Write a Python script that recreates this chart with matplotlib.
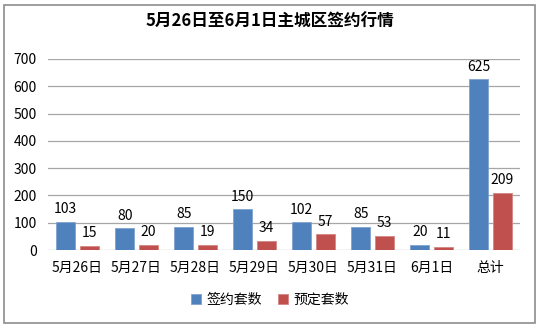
import matplotlib
matplotlib.use("Agg")
import matplotlib.pyplot as plt
import numpy as np
from matplotlib.patches import Rectangle

plt.rcParams['font.family'] = ['Noto Sans CJK SC', 'DejaVu Sans']

categories = ["5月26日", "5月27日", "5月28日", "5月29日", "5月30日", "5月31日", "6月1日", "总计"]
signed = [103, 80, 85, 150, 102, 85, 20, 625]
reserved = [15, 20, 19, 34, 57, 53, 11, 209]
series_names = ["签约套数", "预定套数"]
title = "5月26日至6月1日主城区签约行情"

fig = plt.figure(figsize=(5.4, 3.3), dpi=100)
fig.patches.append(Rectangle((4/540, 1-323/330), 531/540, 318/330, transform=fig.transFigure,
                             fill=False, edgecolor='#8c8c8c', linewidth=1.2))
ax = fig.add_axes([48/540, 1-250/330, 472/540, 191/330])

x = np.arange(len(categories))
w = 0.33
b1 = ax.bar(x - 0.2, signed, w, color='#4F81BD', edgecolor='#7FA3D1', linewidth=0.6, label=series_names[0], zorder=3)
b2 = ax.bar(x + 0.2, reserved, w, color='#C0504D', edgecolor='#D48684', linewidth=0.6, label=series_names[1], zorder=3)
for bars, vals in ((b1, signed), (b2, reserved)):
    for r, v in zip(bars, vals):
        ax.annotate(str(v), (r.get_x() + r.get_width()/2, v), xytext=(0, 4), textcoords='offset points',
                    ha='center', va='bottom', fontsize=10, color='#000000')

ax.set_xlim(-0.5, len(categories) - 0.5)
ax.set_ylim(0, 700)
ax.set_yticks(range(0, 701, 100))
ax.yaxis.grid(True, color='#a6a6a6', linewidth=0.9, zorder=0)
ax.set_axisbelow(True)
for s in ax.spines.values():
    s.set_visible(False)
ax.tick_params(axis='both', length=0, labelsize=10)
ax.tick_params(axis='y', pad=8)
ax.tick_params(axis='x', pad=8)
ax.set_xticks(x)
ax.set_xticklabels(categories)

fig.text(0.5, 1-22/330, title, ha='center', va='center', fontsize=12, fontweight='bold')
fig.legend(handles=[b1, b2], loc='center', bbox_to_anchor=(0.5, 1-300/330), ncol=2, frameon=False,
           fontsize=10, handlelength=0.7, handleheight=0.7, columnspacing=1.2, handletextpad=0.4)

fig.savefig("out.png", dpi=100)
